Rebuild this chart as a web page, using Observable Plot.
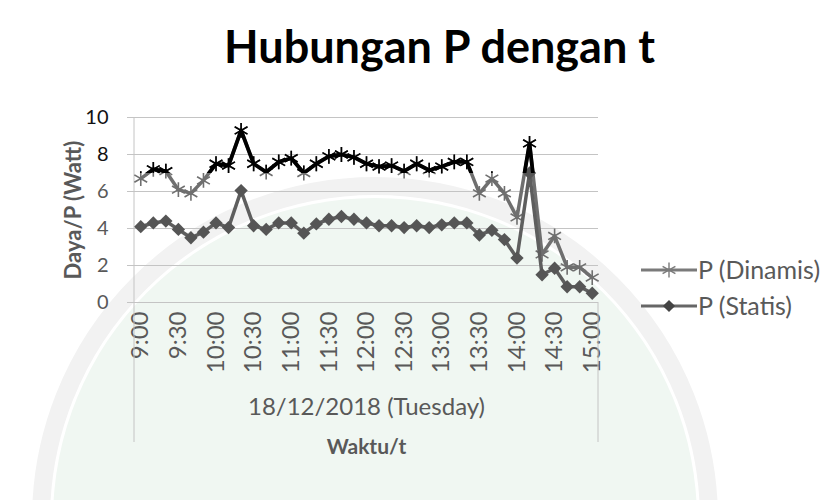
<!DOCTYPE html>
<html>
<head>
<meta charset="utf-8">
<script src="https://cdn.jsdelivr.net/npm/d3@7"></script>
<script src="https://cdn.jsdelivr.net/npm/@observablehq/plot@0.6"></script>
<style>
  html, body { margin: 0; padding: 0; background: #ffffff; }
  #wrap { position: relative; width: 834px; height: 500px; overflow: hidden; font-family: Lato, "Open Sans", sans-serif; }
  #bg, #chart { position: absolute; left: 0; top: 0; }
</style>
</head>
<body>
<div id="wrap">
  <svg id="bg" width="834" height="500"></svg>
  <div id="chart"></div>
</div>
<script>
// ---- data ----
const times = ["9:00","9:10","9:20","9:30","9:40","9:50",
  "10:00","10:10","10:20","10:30","10:40","10:50",
  "11:00","11:10","11:20","11:30","11:40","11:50",
  "12:00","12:10","12:20","12:30","12:40","12:50",
  "13:00","13:10","13:20","13:30","13:40","13:50",
  "14:00","14:10","14:20","14:30","14:40","14:50","15:00"];
const tickLabels = ["9:00","9:30","10:00","10:30","11:00","11:30","12:00","12:30","13:00","13:30","14:00","14:30","15:00"];
const pDinamis = [6.7, 7.2, 7.1, 6.1, 5.9, 6.6,
  7.5, 7.4, 9.3, 7.5, 7.05, 7.6,
  7.8, 7.0, 7.5, 7.9, 8.0, 7.85,
  7.5, 7.35, 7.4, 7.1, 7.5, 7.15,
  7.35, 7.6, 7.6, 5.9, 6.7, 5.9,
  4.6, 8.6, 2.6, 3.6, 1.9, 1.9, 1.35];
const pStatis = [4.1, 4.3, 4.4, 3.95, 3.5, 3.8,
  4.3, 4.05, 6.05, 4.15, 3.95, 4.3,
  4.3, 3.75, 4.25, 4.5, 4.65, 4.5,
  4.3, 4.15, 4.15, 4.05, 4.15, 4.05,
  4.2, 4.3, 4.3, 3.65, 3.9, 3.4,
  2.4, 7.0, 1.5, 1.85, 0.85, 0.85, 0.5];
const seriesNames = ["P (Dinamis)", "P (Statis)"];
const yTicks = [0, 2, 4, 6, 8, 10];
const titleText = "Hubungan P dengan t";
const yLabel = "Daya/P (Watt)";
const xLabel = "Waktu/t";
const dateLabel = "18/12/2018 (Tuesday)";
const darkThreshold = 7.0;

// ---- build ----
const data = times.map((t, i) => ({t, d: pDinamis[i], s: pStatis[i]}));
const greyD = "#6f6f6f", greyS = "#5e5e5e", textGrey = "#595959", gridGrey = "#c4c4c4";
const font = "Lato, 'Open Sans', sans-serif";

const plot = Plot.plot({
  width: 834, height: 500,
  marginLeft: 134, marginRight: 236, marginTop: 117, marginBottom: 198,
  style: {background: "transparent", fontFamily: font, overflow: "visible"},
  x: {type: "point", domain: times, padding: 0.5, round: false, axis: null},
  y: {domain: [0, 10]},
  marks: [
    Plot.ruleY(yTicks, {stroke: gridGrey, strokeWidth: 1}),
    Plot.axisY({ticks: yTicks, tickSize: 7, tickFormat: () => "", stroke: gridGrey, label: null}),
    Plot.text(yTicks, {y: d => d, frameAnchor: "left", dx: -26, textAnchor: "end", lineAnchor: "middle",
      fontSize: 20, fill: d => d > darkThreshold ? "#111" : textGrey}),
    Plot.text(tickLabels, {x: d => d, frameAnchor: "bottom", dy: 9, rotate: -90, textAnchor: "end",
      lineAnchor: "middle", fontSize: 24, fill: textGrey}),
    Plot.text([dateLabel], {frameAnchor: "bottom", dy: 112, textAnchor: "middle", fontSize: 24, fill: textGrey}),
    Plot.text([xLabel], {frameAnchor: "bottom", dy: 151, textAnchor: "middle", fontSize: 21, fontWeight: "bold", fill: textGrey}),
    Plot.text([yLabel], {frameAnchor: "left", dx: -61, rotate: -90, textAnchor: "middle", fontSize: 22, fontWeight: "bold", fill: textGrey}),
    Plot.text([titleText], {frameAnchor: "top", dx: 73, dy: -86, textAnchor: "middle", fontSize: 45, fontWeight: "bold", fill: "#000"}),
    // grey layer
    Plot.line(data, {x: "t", y: "d", stroke: greyD, strokeWidth: 3.5, strokeLinejoin: "round"}),
    Plot.dot(data, {x: "t", y: "d", symbol: "asterisk", r: 7, stroke: greyD, strokeWidth: 1.6}),
    Plot.line(data, {x: "t", y: "s", stroke: greyS, strokeWidth: 3.5, strokeLinejoin: "round"}),
    Plot.dot(data, {x: "t", y: "s", symbol: "diamond2", r: 6, fill: "#555555", stroke: "none"}),
    // dark layer (clipped to the band above the threshold)
    Plot.line(data, {x: "t", y: "d", stroke: "#000", strokeWidth: 3.8, strokeLinejoin: "round", ariaDescription: "darkline"}),
    Plot.dot(data, {x: "t", y: "d", symbol: "asterisk", r: 7, stroke: "#000", strokeWidth: 1.6, ariaDescription: "darkdot"})
  ]
});

document.getElementById("chart").appendChild(plot);

const svg = d3.select(plot);
const ys = plot.scale("y");
const x0 = 134, x1 = 834 - 236;
const yTop = ys.apply(10), yZero = ys.apply(0);
const yThr = ys.apply(darkThreshold);

// clip for the dark layer
svg.insert("defs", ":first-child").append("clipPath").attr("id", "aboveThr")
  .append("rect").attr("x", 0).attr("y", 0).attr("width", 834).attr("height", yThr);
let darkGroups = svg.selectAll('g[aria-description="darkline"], g[aria-description="darkdot"]');
if (darkGroups.empty()) {
  const lines = svg.selectAll(':scope > g[aria-label="line"]').nodes();
  const dots = svg.selectAll(':scope > g[aria-label="dot"]').nodes();
  darkGroups = d3.selectAll([lines[lines.length - 1], dots[dots.length - 1]].filter(Boolean));
}
darkGroups.attr("clip-path", "url(#aboveThr)");

// axis border lines (category axis box)
const axisG = svg.insert("g", 'g[aria-label="line"]').attr("stroke", gridGrey).attr("stroke-width", 1);
axisG.append("line").attr("x1", x0).attr("x2", x0).attr("y1", yTop).attr("y2", 442);
axisG.append("line").attr("x1", x1).attr("x2", x1).attr("y1", yZero).attr("y2", 442);

// legend
const legend = svg.append("g").attr("font-family", font).attr("font-size", 25).attr("fill", textGrey);
const legY = [270, 306];
seriesNames.forEach((name, i) => {
  const g = legend.append("g").attr("transform", `translate(0,${legY[i]})`);
  g.append("line").attr("x1", 641).attr("x2", 697).attr("y1", 0).attr("y2", 0)
    .attr("stroke", i === 0 ? "#7a7a7a" : "#666666").attr("stroke-width", 3);
  if (i === 0) {
    g.append("path").attr("transform", "translate(669,0)")
      .attr("d", d3.symbol(d3.symbolAsterisk, Math.PI * 49)())
      .attr("fill", "none").attr("stroke", "#7a7a7a").attr("stroke-width", 1.4);
  } else {
    g.append("path").attr("transform", "translate(669,0)")
      .attr("d", d3.symbol(d3.symbolDiamond2, Math.PI * 30)())
      .attr("fill", "#444444");
  }
  g.append("text").attr("x", 698).attr("y", 0).attr("dy", "0.35em").attr("text-anchor", "start").text(name);
});

// faint background watermark shapes
const bg = d3.select("#bg");
bg.append("circle").attr("cx", 375).attr("cy", 520).attr("r", 322).attr("fill", "#f0f7f2");
bg.append("circle").attr("cx", 375).attr("cy", 520).attr("r", 334).attr("fill", "none")
  .attr("stroke", "#f2f2f2").attr("stroke-width", 18);
</script>
</body>
</html>
